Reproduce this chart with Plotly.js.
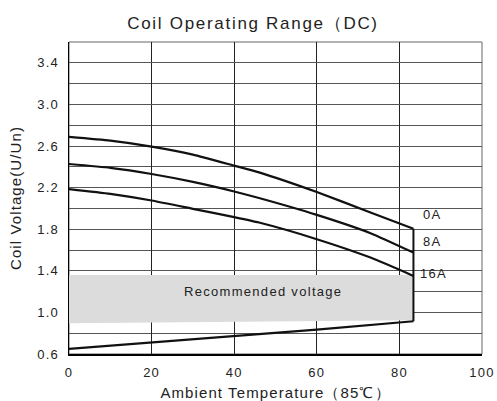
<!DOCTYPE html>
<html>
<head>
<meta charset="utf-8">
<script src="https://cdn.plot.ly/plotly-3.0.1.min.js"></script>
<style>
  html, body { margin: 0; padding: 0; background: #fff; }
  #chart { width: 497px; height: 401px; }
  .gtitle { letter-spacing: 1.7px; }
  .xtitle, .ytitle { letter-spacing: 1.1px; }
  .xtick text, .ytick text { letter-spacing: 1.2px; }
  .annotation-text { letter-spacing: 1.3px; }
</style>
</head>
<body>
<div id="chart"></div>
<script>
// ---- data ----
const tempsCurve = [0, 10, 20, 30, 40, 46, 60, 73, 83.4];
const volt0A  = [2.687, 2.651, 2.594, 2.517, 2.411, 2.346, 2.157, 1.961, 1.804];
const volt8A  = [2.427, 2.390, 2.331, 2.255, 2.163, 2.100, 1.938, 1.762, 1.575];
const volt16A = [2.186, 2.140, 2.076, 1.996, 1.916, 1.864, 1.704, 1.527, 1.351];

const tempsLow = [0, 20, 40, 60, 83.4];
const voltLow  = [0.650, 0.712, 0.776, 0.835, 0.915];

const edgeTemp = [83.4, 83.4];
const edgeVolt = [0.915, 1.804];

const bandTemp = [0, 83.4, 83.4, 0];
const bandVolt = [1.36, 1.36, 0.925, 0.895];

const curveLabels = ["0A", "8A", "16A"];
const labelTemp = [85.3, 85.3, 84.5];
const labelVolt = [1.94, 1.68, 1.375];

const yTickVals = [0.6, 1.0, 1.4, 1.8, 2.2, 2.6, 3.0, 3.4];
const xTickVals = [0, 20, 40, 60, 80, 100];

const bandText = "Recommended voltage";
const bandTextPos = [47, 1.205];

// ---- chart ----
const FONT = "Liberation Sans, Arial, sans-serif";
const lineStyle = {color: "#111", width: 2.2, shape: "spline", smoothing: 0.5};

const traces = [
  {x: bandTemp, y: bandVolt, type: "scatter", mode: "lines", fill: "toself",
   fillcolor: "#dcdcdc", line: {width: 0, color: "rgba(0,0,0,0)"}, hoverinfo: "skip"},
  {x: tempsCurve, y: volt0A, type: "scatter", mode: "lines", line: lineStyle, name: "0A"},
  {x: tempsCurve, y: volt8A, type: "scatter", mode: "lines", line: lineStyle, name: "8A"},
  {x: tempsCurve, y: volt16A, type: "scatter", mode: "lines", line: lineStyle, name: "16A"},
  {x: tempsLow, y: voltLow, type: "scatter", mode: "lines", line: {color: "#111", width: 2.2}, name: "min"},
  {x: edgeTemp, y: edgeVolt, type: "scatter", mode: "lines", line: {color: "#111", width: 2}, name: "edge"}
];

const annotations = curveLabels.map((t, i) => ({
  x: labelTemp[i], y: labelVolt[i], xref: "x", yref: "y", text: t,
  showarrow: false, xanchor: "left", yanchor: "middle",
  font: {family: FONT, size: 13, color: "#222"}
}));
annotations.push({
  x: bandTextPos[0], y: bandTextPos[1], xref: "x", yref: "y", text: bandText,
  showarrow: false, xanchor: "center", yanchor: "middle",
  font: {family: FONT, size: 13, color: "#222"}
});

const layout = {
  width: 497, height: 401,
  margin: {l: 69, r: 15, t: 42, b: 47},
  paper_bgcolor: "#fff", plot_bgcolor: "#fff",
  showlegend: false,
  font: {family: FONT, color: "#222"},
  title: {text: "Coil Operating Range（DC)", font: {family: FONT, size: 17, color: "#222"},
          xref: "container", yref: "container", x: 0.509, y: 0.942,
          xanchor: "center", yanchor: "middle"},
  xaxis: {
    range: [0, 100], tickvals: xTickVals, ticktext: xTickVals.map(String),
    showgrid: true, gridcolor: "#222", gridwidth: 1,
    showline: true, linecolor: "#000", linewidth: 1.5,
    zeroline: false, ticks: "", ticklabelstandoff: 6,
    tickfont: {family: FONT, size: 13, color: "#222"},
    title: {text: "Ambient Temperature（85℃）", font: {family: FONT, size: 15, color: "#222"}, standoff: 8},
    automargin: false, fixedrange: true
  },
  yaxis: {
    range: [0.6, 3.6], tickvals: yTickVals, ticktext: yTickVals.map(v => v.toFixed(1)),
    showgrid: true, gridcolor: "#555", gridwidth: 1,
    minor: {tickvals: [0.8, 1.2, 1.6, 2.0, 2.4, 2.8, 3.2], showgrid: true, gridcolor: "#555", gridwidth: 1, ticks: ""},
    showline: true, linecolor: "#000", linewidth: 1.5,
    zeroline: false, ticks: "", ticklabelstandoff: 6,
    tickfont: {family: FONT, size: 13, color: "#222"},
    title: {text: "Coil Voltage(U/Un)", font: {family: FONT, size: 15, color: "#222"}, standoff: 12},
    automargin: false, fixedrange: true
  },
  shapes: [
    {type: "rect", xref: "paper", yref: "paper", x0: 0, x1: 1, y0: 0, y1: 1,
     line: {color: "#666", width: 1}, layer: "below"}
  ],
  annotations: annotations,
  hovermode: false
};

Plotly.newPlot("chart", traces, layout, {displayModeBar: false, staticPlot: true});
</script>
</body>
</html>
